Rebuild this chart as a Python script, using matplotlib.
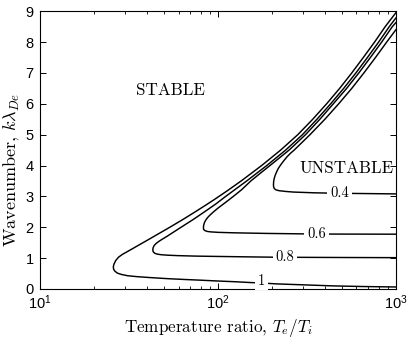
import matplotlib
matplotlib.use("Agg")
import matplotlib.pyplot as plt

# contour levels, outer curve first
levels = ["1", "0.8", "0.6", "0.4"]

# upper branches (nose -> right edge)
up_x = [
    [25.8, 26.0, 26.6, 27.6, 29.0, 30.7, 34, 41.5, 53.6, 63, 74.5, 85, 95.5, 112, 135,
     176, 225, 281, 341, 408, 483, 565, 656, 759, 871, 1000],
    [43, 43.2, 43.8, 44.8, 46.2, 48.5, 51.5, 56.5, 62, 72.5, 84, 97, 110.5, 145, 188,
     240, 298.5, 360, 430, 509, 596, 692, 800, 918, 1000],
    [82.8, 83.1, 83.9, 85.3, 87.3, 90, 94, 100, 110, 122, 136, 153, 173, 196, 251, 310.5,
     374, 445, 529, 619, 719, 832, 955, 1000],
    [205, 205.5, 207, 209.5, 213, 218, 225, 234, 245, 256, 268, 297, 329, 399, 477, 565,
     661, 768, 888, 1000],
]
up_y = [
    [0.72, 0.80, 0.92, 1.03, 1.12, 1.2, 1.345, 1.63, 2.0, 2.24, 2.5, 2.71, 2.9, 3.17, 3.5,
     4.0, 4.5, 5.0, 5.5, 6.0, 6.5, 7.0, 7.5, 8.0, 8.5, 8.95],
    [1.27, 1.34, 1.41, 1.47, 1.53, 1.61, 1.70, 1.85, 2.0, 2.25, 2.5, 2.75, 3.0, 3.5, 4.0,
     4.5, 5.0, 5.5, 6.0, 6.5, 7.0, 7.5, 8.0, 8.5, 8.78],
    [1.99, 2.07, 2.15, 2.23, 2.31, 2.39, 2.49, 2.62, 2.80, 3.0, 3.22, 3.5, 3.75, 4.0, 4.5,
     5.0, 5.5, 6.0, 6.5, 7.0, 7.5, 8.0, 8.5, 8.63],
    [3.38, 3.48, 3.58, 3.68, 3.78, 3.9, 4.02, 4.15, 4.29, 4.4, 4.5, 4.75, 5.0, 5.5, 6.0,
     6.5, 7.0, 7.5, 8.0, 8.4],
]

# lower branches (nose -> right edge)
lo_x = [
    [25.8, 25.9, 26.4, 27.3, 28.7, 31, 35, 41.5, 52, 63.8, 80, 98.4, 125, 151, 180, 214,
     300, 445, 650, 1000],
    [43, 43.2, 44, 45.5, 48, 52, 60, 75, 98, 150, 205, 300, 500, 1000],
    [82.8, 83, 84.5, 87, 91, 100, 122, 188, 360, 1000],
    [205, 205.5, 207.5, 212, 220, 240, 265, 350, 480, 700, 1000],
]
lo_y = [
    [0.72, 0.64, 0.57, 0.51, 0.47, 0.43, 0.40, 0.37, 0.335, 0.31, 0.285, 0.26, 0.235, 0.21,
     0.19, 0.165, 0.135, 0.10, 0.08, 0.065],
    [1.27, 1.21, 1.16, 1.13, 1.11, 1.095, 1.08, 1.065, 1.055, 1.04, 1.03, 1.025, 1.02, 1.015],
    [1.99, 1.93, 1.89, 1.865, 1.85, 1.835, 1.82, 1.80, 1.78, 1.775],
    [3.38, 3.3, 3.25, 3.21, 3.185, 3.16, 3.14, 3.115, 3.10, 3.09, 3.08],
]

# inline label positions
lab_x = [176, 238, 358, 481]
lab_y = [0.27, 1.03, 1.78, 3.1]

plt.rcParams["mathtext.fontset"] = "custom"
plt.rcParams["mathtext.rm"] = "Liberation Sans"
plt.rcParams["mathtext.it"] = "Liberation Sans:italic"
plt.rcParams["font.family"] = "Liberation Sans"

fig = plt.figure(figsize=(4.09, 3.38), dpi=100)
ax = fig.add_axes([0.098, 0.145, 0.87, 0.822])

for i in range(len(levels)):
    xs = list(reversed(lo_x[i])) + up_x[i][1:]
    ys = list(reversed(lo_y[i])) + up_y[i][1:]
    ax.plot(xs, ys, color="black", lw=1.05, solid_joinstyle="round")
    ax.text(lab_x[i], lab_y[i], levels[i], ha="center", va="center",
            family="cmr10", fontsize=10.5,
            bbox=dict(facecolor="white", edgecolor="none", pad=2.0))

ax.text(54, 6.44, "STABLE", ha="center", va="center", family="cmr10", fontsize=12.3)
ax.text(528, 3.9, "UNSTABLE", ha="center", va="center", family="cmr10", fontsize=12.2)

ax.set_xscale("log")
ax.set_xlim(10, 1000)
ax.set_ylim(0, 9)
ax.set_yticks(range(0, 10))
ax.tick_params(which="both", direction="in", top=True, right=True, labelsize=10.5)
ax.tick_params(which="major", length=4, width=0.7)
ax.tick_params(which="minor", length=2.2, width=0.6)
ax.tick_params(axis="x", pad=3.5)
ax.tick_params(axis="y", pad=4.5)
for s in ax.spines.values():
    s.set_linewidth(0.8)

ax.set_xlabel("Temperature ratio, $T_e/T_i$", family="cmr10", fontsize=12.3,
              math_fontfamily="cm", va="top")
ax.xaxis.set_label_coords(0.5, -0.10)
ax.set_ylabel("Wavenumber, $k\\lambda_{De}$", family="cmr10", fontsize=13,
              math_fontfamily="cm")
ax.yaxis.set_label_coords(-0.055, 0.43)

fig.savefig("out.png", dpi=100)
